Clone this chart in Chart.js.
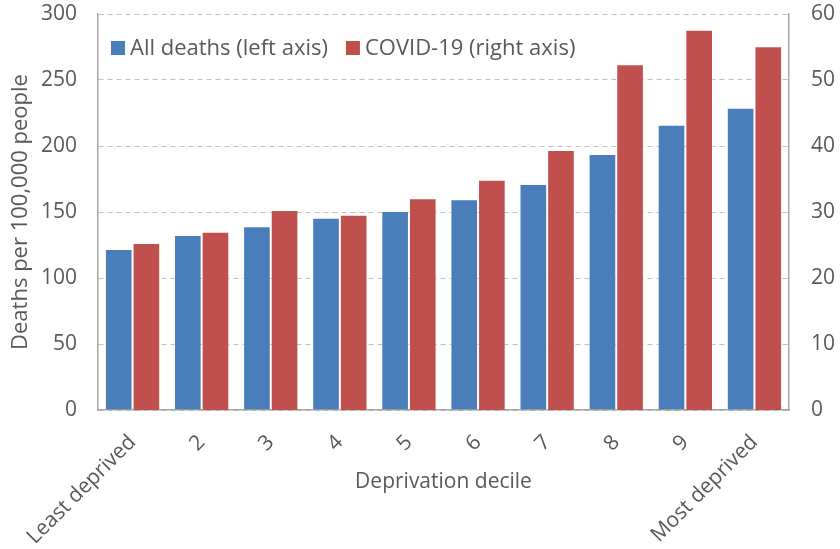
<!DOCTYPE html>
<html>
<head>
<meta charset="utf-8">
<script src="https://cdn.jsdelivr.net/npm/chart.js@4/dist/chart.umd.min.js"></script>
<style>
  html, body { margin: 0; padding: 0; background: #fff; }
  #wrap { width: 840px; height: 549px; position: relative; }
</style>
</head>
<body>
<div id="wrap"><canvas id="c" width="840" height="549"></canvas></div>
<script>
const categories = ["Least deprived", "2", "3", "4", "5", "6", "7", "8", "9", "Most deprived"];
const allDeaths = [122, 132.6, 139.2, 145.7, 150.8, 159.6, 171.2, 193.9, 216.1, 229];
const covidDeaths = [25.3, 27.0, 30.3, 29.6, 32.1, 34.9, 39.4, 52.4, 57.6, 55.1];
const leftTicks = [0, 50, 100, 150, 200, 250, 300];
const rightTicks = [0, 10, 20, 30, 40, 50, 60];
const seriesNames = ["All deaths (left axis)", "COVID-19 (right axis)"];

const TXT = '#595959';
const FONT = '"Open Sans", Lato, sans-serif';

const legendPlugin = {
  id: 'insideLegend',
  afterDraw(chart) {
    const ctx = chart.ctx;
    const area = chart.chartArea;
    ctx.save();
    ctx.font = '22px ' + FONT;
    ctx.textBaseline = 'middle';
    let x = area.left + 13;
    const y = 48;
    chart.data.datasets.forEach((ds) => {
      ctx.fillStyle = ds.backgroundColor;
      ctx.fillRect(x, y - 7, 14, 14);
      x += 19;
      ctx.fillStyle = TXT;
      ctx.textAlign = 'left';
      ctx.fillText(ds.label, x, y + 1);
      x += ctx.measureText(ds.label).width + 18;
    });
    ctx.restore();
  }
};

new Chart(document.getElementById('c'), {
  type: 'bar',
  data: {
    labels: categories,
    datasets: [
      { label: seriesNames[0], data: allDeaths, yAxisID: 'y',
        backgroundColor: '#4A7EBB', borderColor: 'rgba(255,255,255,0.35)', borderWidth: 1 },
      { label: seriesNames[1], data: covidDeaths, yAxisID: 'y1',
        backgroundColor: '#C0504D', borderColor: 'rgba(255,255,255,0.35)', borderWidth: 1 }
    ]
  },
  options: {
    responsive: false,
    animation: false,
    devicePixelRatio: 1,
    layout: { padding: { top: 14, left: 0, right: 0, bottom: 0 } },
    datasets: { bar: { categoryPercentage: 0.8, barPercentage: 1.0 } },
    plugins: { legend: { display: false }, tooltip: { enabled: false } },
    scales: {
      x: {
        grid: { display: false, drawTicks: false },
        border: { display: true, color: '#A6A6A6', width: 1.5 },
        ticks: { color: TXT, font: { family: FONT, size: 21 }, minRotation: 45, maxRotation: 45, padding: 20 },
        title: { display: true, text: 'Deprivation decile', color: TXT, font: { family: FONT, size: 21 }, padding: { top: 0, bottom: 54 } },
        afterFit(s) { s.height = 139; s.paddingLeft = 0; s.paddingRight = 0; }
      },
      y: {
        position: 'left',
        min: 0, max: 300,
        afterBuildTicks(s) { s.ticks = leftTicks.map(v => ({ value: v })); },
        grid: { color: '#BFBFBF', drawTicks: false, lineWidth: 1 },
        border: { display: true, color: '#A6A6A6', width: 1.5, dash: [5, 4] },
        ticks: { color: TXT, font: { family: FONT, size: 21 }, padding: 21 },
        title: { display: true, text: 'Deaths per 100,000 people', color: TXT, font: { family: FONT, size: 22 }, padding: { top: 8, bottom: 0 } },
        afterFit(s) { s.width = 98; s.paddingTop = 0; s.paddingBottom = 0; }
      },
      y1: {
        position: 'right',
        min: 0, max: 60,
        afterBuildTicks(s) { s.ticks = rightTicks.map(v => ({ value: v })); },
        grid: { display: false, drawTicks: false },
        border: { display: true, color: '#A6A6A6', width: 1.5 },
        ticks: { color: TXT, font: { family: FONT, size: 21 }, padding: 22 },
        afterFit(s) { s.width = 51; s.paddingTop = 0; s.paddingBottom = 0; }
      }
    }
  },
  plugins: [legendPlugin]
});
</script>
</body>
</html>
